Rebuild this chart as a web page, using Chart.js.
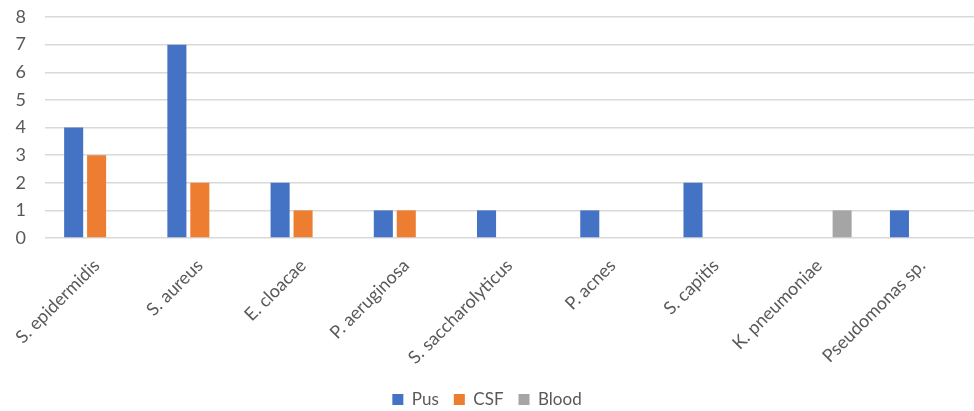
<!DOCTYPE html>
<html>
<head>
<meta charset="utf-8">
<script src="https://cdn.jsdelivr.net/npm/chart.js@4"></script>
<style>
  html, body { margin: 0; padding: 0; background: #fff; }
  #wrap { width: 974px; height: 411px; }
</style>
</head>
<body>
<div id="wrap"><canvas id="chart" width="974" height="411"></canvas></div>
<script>
const organisms = ["S. epidermidis", "S. aureus", "E. cloacae", "P. aeruginosa", "S. saccharolyticus", "P. acnes", "S. capitis", "K. pneumoniae", "Pseudomonas sp."];
const pus = [4, 7, 2, 1, 1, 1, 2, 0, 1];
const csf = [3, 2, 1, 1, 0, 0, 0, 0, 0];
const blood = [0, 0, 0, 0, 0, 0, 0, 1, 0];
const yTicks = [0, 1, 2, 3, 4, 5, 6, 7, 8];

const fontFamily = "Lato, 'Open Sans', sans-serif";

new Chart(document.getElementById("chart"), {
    type: 'bar',
    data: {
        labels: organisms,
        datasets: [
            { label: "Pus", data: pus, backgroundColor: "#4472C4" },
            { label: "CSF", data: csf, backgroundColor: "#ED7D31" },
            { label: "Blood", data: blood, backgroundColor: "#A5A5A5" }
        ]
    },
    options: {
        responsive: false,
        animation: false,
        layout: { padding: { top: 17, right: 0, left: 0, bottom: -7 } },
        datasets: {
            bar: { categoryPercentage: 0.667, barPercentage: 0.83 }
        },
        scales: {
            x: {
                grid: { display: false },
                border: { display: false },
                ticks: {
                    minRotation: 45, maxRotation: 45,
                    color: "#595959",
                    font: { family: fontFamily, size: 18 },
                    padding: 9
                },
                afterFit: function(scale) { scale.height = 138; }
            },
            y: {
                min: 0, max: 8,
                border: { display: false },
                grid: { color: "#d9d9d9", lineWidth: 1.5, drawTicks: false },
                afterBuildTicks: function(scale) {
                    scale.ticks = yTicks.map(v => ({ value: v }));
                },
                ticks: {
                    color: "#595959",
                    font: { family: fontFamily, size: 18 },
                    padding: 19
                },
                afterFit: function(scale) {
                    scale.width = 45;
                    scale.paddingTop = 0;
                    scale.paddingBottom = 0;
                }
            }
        },
        plugins: {
            legend: {
                position: 'bottom',
                labels: {
                    color: "#595959",
                    font: { family: fontFamily, size: 17 },
                    boxWidth: 11, boxHeight: 11,
                    padding: 15
                }
            },
            tooltip: { enabled: false }
        }
    }
});
</script>
</body>
</html>
